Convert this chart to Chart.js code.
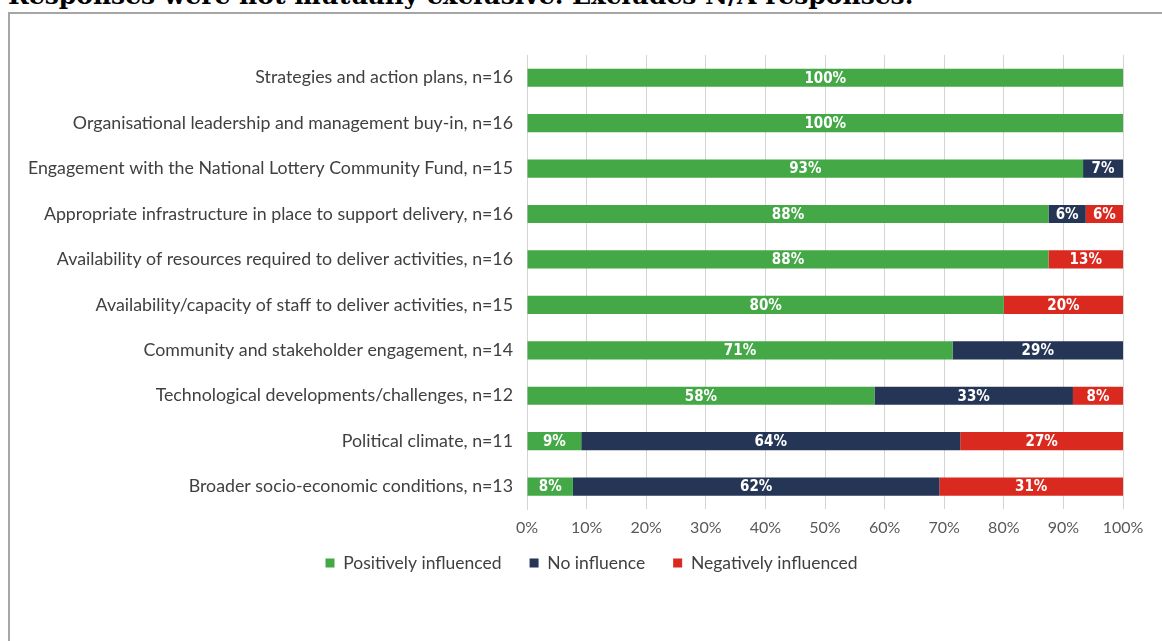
<!DOCTYPE html>
<html>
<head>
<meta charset="utf-8">
<script src="https://cdn.jsdelivr.net/npm/chart.js@4/dist/chart.umd.min.js"></script>
<style>
  html, body { margin: 0; padding: 0; background: #fff; overflow: hidden; }
  body { width: 1162px; height: 641px; position: relative; }
  #note {
    position: absolute; left: 8px; top: -16px; white-space: nowrap;
    font: bold 25px/24px "DejaVu Serif", serif; color: #000;
  }
  #frame {
    position: absolute; left: 8px; top: 12px; width: 1170px; height: 650px;
    border: 2px solid #a6a6a6; box-sizing: border-box;
  }
  #wrap { position: absolute; left: 10px; top: 14px; width: 1152px; height: 627px; }
</style>
</head>
<body>
<div id="note">Responses were not mutually exclusive. Excludes N/A responses.</div>
<div id="frame"></div>
<div id="wrap"><canvas id="chart1"></canvas></div>
<script>
// Influences on delivery, share of respondents (%)
// ========================================================================
var categories = [
  "Strategies and action plans, n=16",
  "Organisational leadership and management buy-in, n=16",
  "Engagement with the National Lottery Community Fund, n=15",
  "Appropriate infrastructure in place to support delivery, n=16",
  "Availability of resources required to deliver activities, n=16",
  "Availability/capacity of staff to deliver activities, n=15",
  "Community and stakeholder engagement, n=14",
  "Technological developments/challenges, n=12",
  "Political climate, n=11",
  "Broader socio-economic conditions, n=13"
];
var positively = [100, 100, 93.3, 87.5, 87.5, 80, 71.4, 58.3, 9.1, 7.7];
var noInfluence = [0, 0, 6.7, 6.25, 0, 0, 28.6, 33.3, 63.6, 61.5];
var negatively = [0, 0, 0, 6.25, 12.5, 20, 0, 8.4, 27.3, 30.8];
var xTicks = [0, 10, 20, 30, 40, 50, 60, 70, 80, 90, 100];

var gothic = "'Century Gothic', Lato, sans-serif";

// white % labels in the middle of each segment
var segmentLabels = {
  id: 'segmentLabels',
  afterDatasetsDraw: function(chart) {
    var ctx = chart.ctx;
    ctx.save();
    ctx.fillStyle = '#fff';
    ctx.font = "bold 15px 'DejaVu Sans Condensed', 'DejaVu Sans', sans-serif";
    ctx.textAlign = 'center';
    ctx.textBaseline = 'middle';
    chart.data.datasets.forEach(function(ds, i) {
      chart.getDatasetMeta(i).data.forEach(function(bar, j) {
        var v = ds.data[j];
        if (!v) return;
        ctx.fillText(Math.round(v) + '%', (bar.x + bar.base) / 2, bar.y + 1);
      });
    });
    ctx.restore();
  }
};

// pull the legend up under the axis labels and nudge it right
var legendShift = {
  id: 'legendShift',
  beforeDraw: function(chart) {
    var lg = chart.legend;
    if (!lg) return;
    var h = lg.bottom - lg.top;
    lg.top = chart.chartArea.bottom + 17;
    lg.bottom = lg.top + h;
    lg.left += 25;
    lg.right += 25;
  }
};

var char1El = document.getElementById('chart1');
new Chart(char1El, {
  type: 'bar',
  data: {
    labels: categories,
    datasets: [{
      label: "Positively influenced",
      backgroundColor: "#43a845",
      data: positively
    }, {
      label: "No influence",
      backgroundColor: "#253555",
      data: noInfluence
    }, {
      label: "Negatively influenced",
      backgroundColor: "#da291f",
      data: negatively
    }]
  },
  plugins: [segmentLabels, legendShift],
  options: {
    indexAxis: 'y',
    responsive: true,
    maintainAspectRatio: false,
    animation: false,
    barPercentage: 0.4,
    categoryPercentage: 1,
    layout: { padding: { top: 41, right: 39, bottom: 39, left: 0 } },
    scales: {
      x: {
        stacked: true,
        min: 0,
        max: 100,
        afterBuildTicks: function(scale) {
          scale.ticks = xTicks.map(function(v) { return { value: v }; });
        },
        grid: { color: '#d4d4d4', drawTicks: false },
        border: { display: false },
        ticks: {
          padding: 9,
          color: '#595959',
          font: { family: gothic, size: 16 },
          callback: function(v) { return v + '%'; }
        }
      },
      y: {
        stacked: true,
        afterFit: function(scale) { scale.width = 517; },
        grid: { display: false, drawTicks: false },
        border: { display: true, color: '#d4d4d4' },
        ticks: {
          padding: 14,
          color: '#404040',
          font: { family: gothic, size: 17.8 }
        }
      }
    },
    plugins: {
      legend: {
        position: 'bottom',
        labels: {
          boxWidth: 9,
          boxHeight: 9,
          padding: 28,
          color: '#404040',
          font: { family: gothic, size: 17.5 }
        }
      },
      tooltip: { enabled: false }
    }
  }
});
</script>
</body>
</html>
